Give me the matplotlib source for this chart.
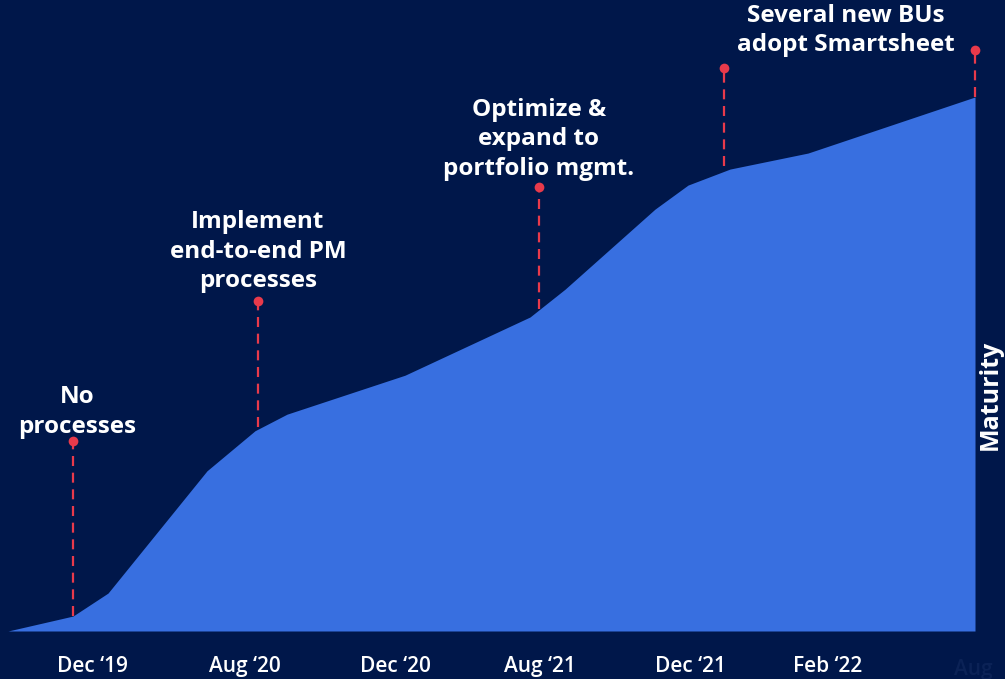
import matplotlib
matplotlib.use("Agg")
import matplotlib.pyplot as plt

# Timeline position (horizontal units) and maturity level
x_pos = [8, 73, 108, 207, 255, 287, 405, 530, 565, 655, 688, 730, 808, 975]
maturity = [0, 2.8, 7.1, 30.0, 37.5, 40.6, 47.9, 58.8, 64.0, 79.0, 83.5, 86.5, 89.5, 100]

tick_pos = [92, 245, 395, 540, 690, 828]
tick_labels = ["Dec \u201819", "Aug \u201820", "Dec \u201820", "Aug \u201821", "Dec \u201821", "Feb \u201822"]
faint_tick_pos = 973
faint_tick_label = "Aug"

milestone_x = [73, 258, 539, 724, 975]
milestone_top = [35.6, 61.8, 83.1, 105.4, 108.8]
milestone_base = [2.8, 38.2, 60.3, 87.0, 100]
milestone_text = ["No\nprocesses", "Implement\nend-to-end PM\nprocesses",
                  "Optimize &\nexpand to\nportfolio mgmt.", "Several new BUs\nadopt Smartsheet"]
milestone_text_x = [77, 258, 539, 846]
milestone_text_y = [41.0, 71.0, 92.1, 112.4]

BG = "#00174a"
FILL = "#386fe0"
RED = "#e83a4b"
FONT = ["Open Sans", "DejaVu Sans"]

fig = plt.figure(figsize=(10.05, 6.79), dpi=100, facecolor=BG)
ax = fig.add_axes([0, 48 / 679, 1, 631 / 679])
ax.set_facecolor(BG)
ax.set_xlim(0, 1005)
ax.set_ylim(0, 118.16)
for s in ax.spines.values():
    s.set_visible(False)
ax.set_yticks([])

ax.fill_between(x_pos, 0, maturity, color=FILL, lw=0, zorder=2)

for mx, top, base in zip(milestone_x, milestone_top, milestone_base):
    ax.plot([mx, mx], [base, top], color=RED, lw=1.6, ls=(0, (4.5, 3)), zorder=3)
    ax.plot([mx], [top], "o", color=RED, ms=7, mew=0, zorder=4)

for t, tx, ty in zip(milestone_text, milestone_text_x, milestone_text_y):
    ax.text(tx, ty, t, ha="center", va="center", color="white", fontsize=17.5,
            fontweight="bold", family=FONT, linespacing=1.3, multialignment="center")

ax.set_xticks(tick_pos)
ax.set_xticklabels(tick_labels, color="white", fontsize=15, fontweight="semibold", family=FONT)
ax.tick_params(axis="x", length=0, pad=18)
ax.text(faint_tick_pos, -5.3, faint_tick_label, ha="center", va="top", color="#0b2256",
        fontsize=15, fontweight="semibold", family=FONT, clip_on=False)

fig.text(990 / 1005, 1 - 395 / 679, "Maturity", rotation=90, ha="center", va="center",
         color="white", fontsize=18, fontweight="bold", family=FONT)

fig.savefig("out.png", dpi=100, facecolor=BG)
